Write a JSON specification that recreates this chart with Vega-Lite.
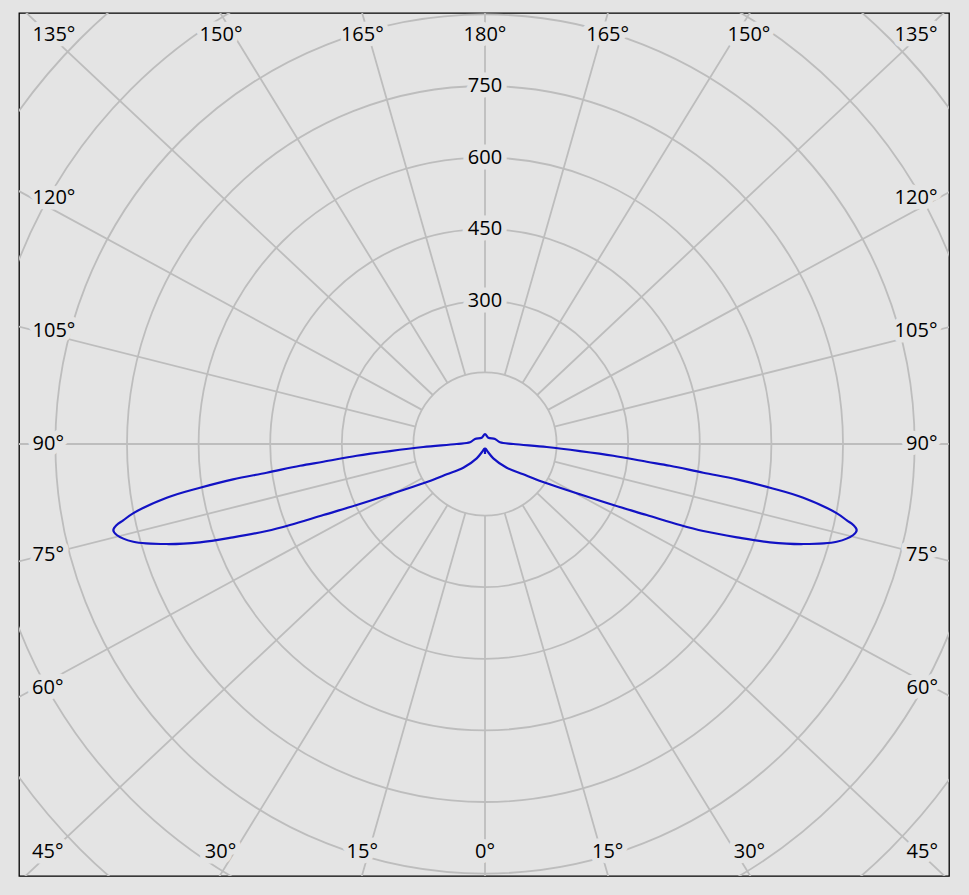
{
  "$schema": "https://vega.github.io/schema/vega-lite/v6.json",
  "width": 930,
  "height": 863,
  "autosize": {"type": "none"},
  "padding": {"left": 19, "top": 13, "right": 20, "bottom": 19},
  "background": "#e4e4e4",
  "config": {"view": {"stroke": "#000000", "strokeWidth": 1.3, "fill": "#e4e4e4"}},
  "datasets": {
    "rings": [{"r": 150}, {"r": 300}, {"r": 450}, {"r": 600}, {"r": 750}, {"r": 900}, {"r": 1050}, {"r": 1200}],
    "spokes": [
      {"a": 0}, {"a": 180},
      {"a": 195.91}, {"a": 211.56}, {"a": 226.77}, {"a": 241.51}, {"a": 255.86}, {"a": 270}, {"a": 284.14}, {"a": 298.49}, {"a": 313.23}, {"a": 328.44}, {"a": 344.09},
      {"a": 164.09}, {"a": 148.44}, {"a": 133.23}, {"a": 118.49}, {"a": 104.14}, {"a": 90}, {"a": 75.86}, {"a": 61.51}, {"a": 46.77}, {"a": 31.56}, {"a": 15.91}
    ],
    "ringLabels": [{"r": 300}, {"r": 450}, {"r": 600}, {"r": 750}],
    "angleLabels": [
      {"t": "135°", "x": -903, "y": 857}, {"t": "150°", "x": -553, "y": 857}, {"t": "165°", "x": -257, "y": 857}, {"t": "180°", "x": 0, "y": 857},
      {"t": "165°", "x": 257, "y": 857}, {"t": "150°", "x": 553, "y": 857}, {"t": "135°", "x": 903, "y": 857},
      {"t": "120°", "x": -903, "y": 515}, {"t": "105°", "x": -903, "y": 237}, {"t": "90°", "x": -915, "y": 1}, {"t": "75°", "x": -915, "y": -233}, {"t": "60°", "x": -916, "y": -511}, {"t": "45°", "x": -916, "y": -855},
      {"t": "120°", "x": 903, "y": 515}, {"t": "105°", "x": 903, "y": 237}, {"t": "90°", "x": 915, "y": 1}, {"t": "75°", "x": 915, "y": -233}, {"t": "60°", "x": 916, "y": -511}, {"t": "45°", "x": 916, "y": -855},
      {"t": "30°", "x": -554, "y": -855}, {"t": "15°", "x": -257, "y": -855}, {"t": "0°", "x": 0, "y": -855}, {"t": "15°", "x": 257, "y": -855}, {"t": "30°", "x": 554, "y": -855}
    ],
    "curve": [
      {"i": 1, "x": 0, "y": -21}, {"i": 2, "x": -1, "y": -9.4}, {"i": 3, "x": -6.3, "y": -16.8}, {"i": 4, "x": -17.4, "y": -30},
      {"i": 5, "x": -45.5, "y": -49.7}, {"i": 6, "x": -80.2, "y": -63.5}, {"i": 7, "x": -129.3, "y": -82.3}, {"i": 8, "x": -199, "y": -105.4},
      {"i": 9, "x": -268.8, "y": -127.8}, {"i": 10, "x": -338.8, "y": -148.7}, {"i": 11, "x": -408.5, "y": -169.7}, {"i": 12, "x": -457.3, "y": -182.3},
      {"i": 13, "x": -527.9, "y": -195.5}, {"i": 14, "x": -597.1, "y": -205.9}, {"i": 15, "x": -666.8, "y": -209.5}, {"i": 16, "x": -736.8, "y": -204.7},
      {"i": 17, "x": -771.6, "y": -190.6}, {"i": 18, "x": -778.7, "y": -180.2}, {"i": 19, "x": -771.6, "y": -169.7}, {"i": 20, "x": -758, "y": -160},
      {"i": 21, "x": -737.4, "y": -145.2}, {"i": 22, "x": -666.8, "y": -112.5}, {"i": 23, "x": -597.1, "y": -91.6}, {"i": 24, "x": -527.9, "y": -74},
      {"i": 25, "x": -457.3, "y": -60.1}, {"i": 26, "x": -387.6, "y": -45.5}, {"i": 27, "x": -338.8, "y": -37.1}, {"i": 28, "x": -268.8, "y": -24.5},
      {"i": 29, "x": -199, "y": -14.7}, {"i": 30, "x": -129.3, "y": -6.3}, {"i": 31, "x": -59.3, "y": 0}, {"i": 32, "x": -31.4, "y": 3.6},
      {"i": 33, "x": -21, "y": 10.5}, {"i": 34, "x": -6.9, "y": 13.2}, {"i": 35, "x": 0, "y": 21},
      {"i": 36, "x": 6.9, "y": 13.2}, {"i": 37, "x": 21, "y": 10.5}, {"i": 38, "x": 31.4, "y": 3.6}, {"i": 39, "x": 59.3, "y": 0},
      {"i": 40, "x": 129.3, "y": -6.3}, {"i": 41, "x": 199, "y": -14.7}, {"i": 42, "x": 268.8, "y": -24.5}, {"i": 43, "x": 338.8, "y": -37.1},
      {"i": 44, "x": 387.6, "y": -45.5}, {"i": 45, "x": 457.3, "y": -60.1}, {"i": 46, "x": 527.9, "y": -74}, {"i": 47, "x": 597.1, "y": -91.6},
      {"i": 48, "x": 666.8, "y": -112.5}, {"i": 49, "x": 737.4, "y": -145.2}, {"i": 50, "x": 758, "y": -160}, {"i": 51, "x": 771.6, "y": -169.7},
      {"i": 52, "x": 778.7, "y": -180.2}, {"i": 53, "x": 771.6, "y": -190.6}, {"i": 54, "x": 736.8, "y": -204.7}, {"i": 55, "x": 666.8, "y": -209.5},
      {"i": 56, "x": 597.1, "y": -205.9}, {"i": 57, "x": 527.9, "y": -195.5}, {"i": 58, "x": 457.3, "y": -182.3}, {"i": 59, "x": 408.5, "y": -169.7},
      {"i": 60, "x": 338.8, "y": -148.7}, {"i": 61, "x": 268.8, "y": -127.8}, {"i": 62, "x": 199, "y": -105.4}, {"i": 63, "x": 129.3, "y": -82.3},
      {"i": 64, "x": 80.2, "y": -63.5}, {"i": 65, "x": 45.5, "y": -49.7}, {"i": 66, "x": 17.4, "y": -30}, {"i": 67, "x": 6.3, "y": -16.8},
      {"i": 68, "x": 1, "y": -9.4}, {"i": 69, "x": 0, "y": -21}
    ]
  },
  "layer": [
    {
      "data": {"name": "rings"},
      "mark": {"type": "arc", "fillOpacity": 0, "stroke": "#bdbdbd", "strokeWidth": 1.8, "clip": true},
      "encoding": {
        "x": {"datum": 0, "type": "quantitative", "scale": {"domain": [-976.3, 972.1], "nice": false, "zero": false}, "axis": null},
        "y": {"datum": 0, "type": "quantitative", "scale": {"domain": [-905, 903], "nice": false, "zero": false}, "axis": null},
        "radius": {"field": "r", "type": "quantitative", "scale": {"type": "linear", "domain": [0, 1500], "range": [0, 716], "zero": true, "nice": false}},
        "radius2": {"field": "r"},
        "theta": {"datum": 0, "type": "quantitative", "stack": null, "scale": {"type": "linear", "domain": [0, 360], "range": [0, 6.283185307179586]}},
        "theta2": {"datum": 360}
      }
    },
    {
      "data": {"name": "spokes"},
      "mark": {"type": "arc", "fillOpacity": 0, "stroke": "#bdbdbd", "strokeWidth": 1.8, "clip": true},
      "encoding": {
        "x": {"datum": 0, "type": "quantitative", "axis": null},
        "y": {"datum": 0, "type": "quantitative", "axis": null},
        "radius": {"datum": 150, "type": "quantitative"},
        "radius2": {"datum": 1500},
        "theta": {"field": "a", "type": "quantitative", "stack": null},
        "theta2": {"field": "a"}
      }
    },
    {
      "data": {"name": "ringLabels"},
      "mark": {"type": "text", "font": "Open Sans", "fontSize": 20, "baseline": "middle", "align": "center", "stroke": "#e4e4e4", "strokeWidth": 11, "strokeJoin": "round", "fill": "#e4e4e4"},
      "encoding": {
        "x": {"datum": 0, "type": "quantitative", "axis": null},
        "y": {"field": "r", "type": "quantitative", "axis": null},
        "text": {"field": "r", "type": "quantitative"}
      }
    },
    {
      "data": {"name": "ringLabels"},
      "mark": {"type": "text", "font": "Open Sans", "fontSize": 20, "baseline": "middle", "align": "center", "fill": "#000000"},
      "encoding": {
        "x": {"datum": 0, "type": "quantitative", "axis": null},
        "y": {"field": "r", "type": "quantitative", "axis": null},
        "text": {"field": "r", "type": "quantitative"}
      }
    },
    {
      "data": {"name": "angleLabels"},
      "mark": {"type": "text", "font": "Open Sans", "fontSize": 20, "baseline": "middle", "align": "center", "stroke": "#e4e4e4", "strokeWidth": 11, "strokeJoin": "round", "fill": "#e4e4e4"},
      "encoding": {
        "x": {"field": "x", "type": "quantitative", "axis": null},
        "y": {"field": "y", "type": "quantitative", "axis": null},
        "text": {"field": "t", "type": "nominal"}
      }
    },
    {
      "data": {"name": "angleLabels"},
      "mark": {"type": "text", "font": "Open Sans", "fontSize": 20, "baseline": "middle", "align": "center", "fill": "#000000"},
      "encoding": {
        "x": {"field": "x", "type": "quantitative", "axis": null},
        "y": {"field": "y", "type": "quantitative", "axis": null},
        "text": {"field": "t", "type": "nominal"}
      }
    },
    {
      "data": {"name": "curve"},
      "mark": {"type": "line", "stroke": "#1212c4", "strokeWidth": 2.2, "interpolate": "catmull-rom", "clip": true},
      "encoding": {
        "x": {"field": "x", "type": "quantitative", "axis": null},
        "y": {"field": "y", "type": "quantitative", "axis": null},
        "order": {"field": "i", "type": "quantitative"}
      }
    }
  ]
}
